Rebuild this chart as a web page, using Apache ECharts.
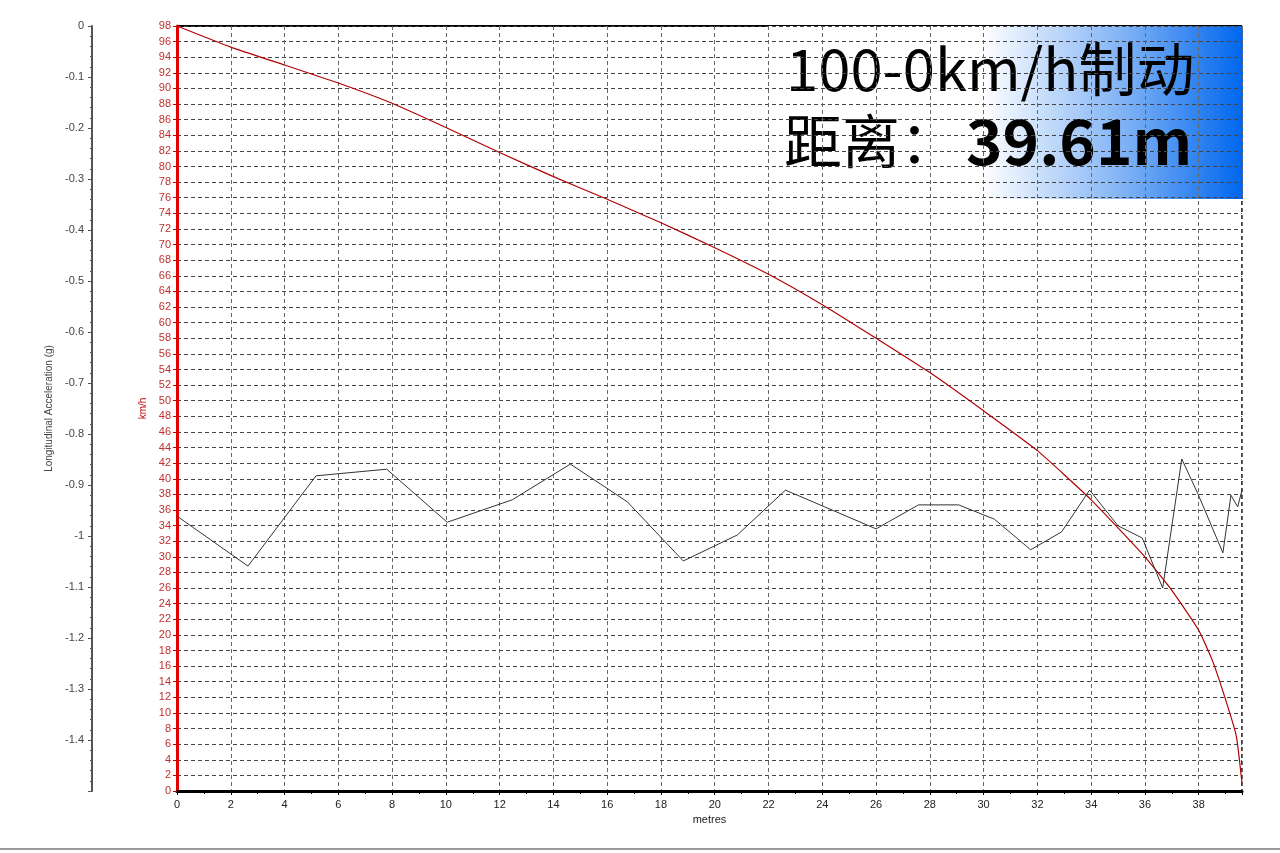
<!DOCTYPE html>
<html><head><meta charset="utf-8">
<script src="https://cdn.jsdelivr.net/npm/echarts@6/dist/echarts.min.js"></script>
<style>html,body{margin:0;padding:0;background:#fff}#c{width:1280px;height:853px}</style>
</head><body><div id="c"></div>
<script>
const speedX = [0,2,4,6,8,10,12,14,16,18,20,22,24,26,28,30,32,34,36,37,38,38.5,39,39.4,39.61];
const speedV = [98,95.3,93.0,90.7,88.1,85.0,81.8,78.7,75.8,72.8,69.6,66.2,62.3,58.0,53.6,48.7,43.6,37.3,30.0,25.7,20.6,16.8,11.7,7.0,1.0];
const accX = [0,2.64,5.17,7.8,10.05,12.47,14.63,16.75,18.83,20.84,22.63,26.0,27.58,29.07,30.4,31.75,32.9,33.94,35.0,35.9,36.66,37.37,37.96,38.9,39.2,39.45,39.61];
const accG = [-0.961,-1.059,-0.882,-0.869,-0.973,-0.929,-0.859,-0.933,-1.049,-0.998,-0.910,-0.986,-0.939,-0.939,-0.967,-1.027,-0.992,-0.910,-0.980,-1.004,-1.102,-0.849,-0.916,-1.033,-0.920,-0.943,-0.910];
const titleLine1 = '100-0km/h制动';
const titleLine2a = '距离：';
const titleLine2b = '39.61m';

const chart = echarts.init(document.getElementById('c'));
const lab = {fontFamily:'Arial, Liberation Sans', fontSize:11};
chart.setOption({
  animation:false,
  grid:{left:177,right:38,top:26,bottom:62,show:false},
  xAxis:{type:'value',min:0,max:39.61,interval:2,name:'metres',nameLocation:'middle',nameGap:22,
    nameTextStyle:Object.assign({color:'#222'},lab),
    axisLine:{lineStyle:{color:'#000',width:3}},axisTick:{show:true,length:4,lineStyle:{color:'#000'}},
    minorTick:{show:true,splitNumber:2,length:3,lineStyle:{color:'#000'}},
    axisLabel:Object.assign({color:'#222',showMaxLabel:false,margin:8},lab),
    splitLine:{show:true,lineStyle:{color:'#666',type:[4,3],width:1}}},
  yAxis:[
    {type:'value',min:0,max:98,interval:2,position:'left',name:'km/h',nameLocation:'middle',nameGap:26,nameRotate:90,
     nameTextStyle:Object.assign({color:'#c00000'},lab,{fontSize:10}),
     axisLine:{show:true,lineStyle:{color:'#e00000',width:3}},axisTick:{show:true,length:4,lineStyle:{color:'#c00000'}},
     axisLabel:Object.assign({color:'#c03030',margin:6},lab),
     splitLine:{show:true,lineStyle:{color:'#444',type:[4,3],width:1}}},
    {type:'value',min:-1.5,max:0,interval:0.1,position:'left',offset:85,name:'Longitudinal Acceleration (g)',nameLocation:'middle',nameGap:35,nameRotate:90,
     nameTextStyle:Object.assign({color:'#444'},lab,{fontSize:10}),
     axisLine:{show:true,lineStyle:{color:'#555',width:2}},axisTick:{show:true,length:4,lineStyle:{color:'#555'}},
     minorTick:{show:true,splitNumber:5,length:2,lineStyle:{color:'#555'}},
     axisLabel:Object.assign({color:'#444',margin:8,showMinLabel:false},lab),
     splitLine:{show:false}}
  ],
  series:[
    {type:'line',yAxisIndex:0,data:speedX.map((x,i)=>[x,speedV[i]]),smooth:0.15,symbol:'none',lineStyle:{color:'#b00000',width:1.2}},
    {type:'line',yAxisIndex:1,data:accX.map((x,i)=>[x,accG[i]]),symbol:'none',lineStyle:{color:'#333',width:1}}
  ],
  graphic:[
    {type:'line',shape:{x1:177,y1:26,x2:1242,y2:26},style:{stroke:'#000',lineWidth:2}},
    {type:'line',shape:{x1:1242,y1:26,x2:1242,y2:791},style:{stroke:'#000',lineWidth:1.5,lineDash:[4,3]}},
    {type:'line',shape:{x1:0,y1:849,x2:1280,y2:849},style:{stroke:'#999',lineWidth:2}},
    {type:'rect',shape:{x:768,y:26,width:475,height:173},
     style:{fill:new echarts.graphic.LinearGradient(0,0,1,0,[{offset:0,color:'#ffffff'},{offset:0.45,color:'#ffffff'},{offset:0.75,color:'#7fb2f5'},{offset:1,color:'#0066ee'}])}},
    {type:'text',left:786,top:40,style:{text:titleLine1,font:'58px "Noto Sans CJK SC", sans-serif',fill:'#000'}},
    {type:'text',left:784,top:112,style:{text:titleLine2a,font:'58px "Noto Sans CJK SC", sans-serif',fill:'#000'}},
    {type:'text',left:966,top:110,style:{text:titleLine2b,font:'bold 62px "Noto Sans CJK SC", sans-serif',fill:'#000'}}
  ]
});
</script></body></html>
